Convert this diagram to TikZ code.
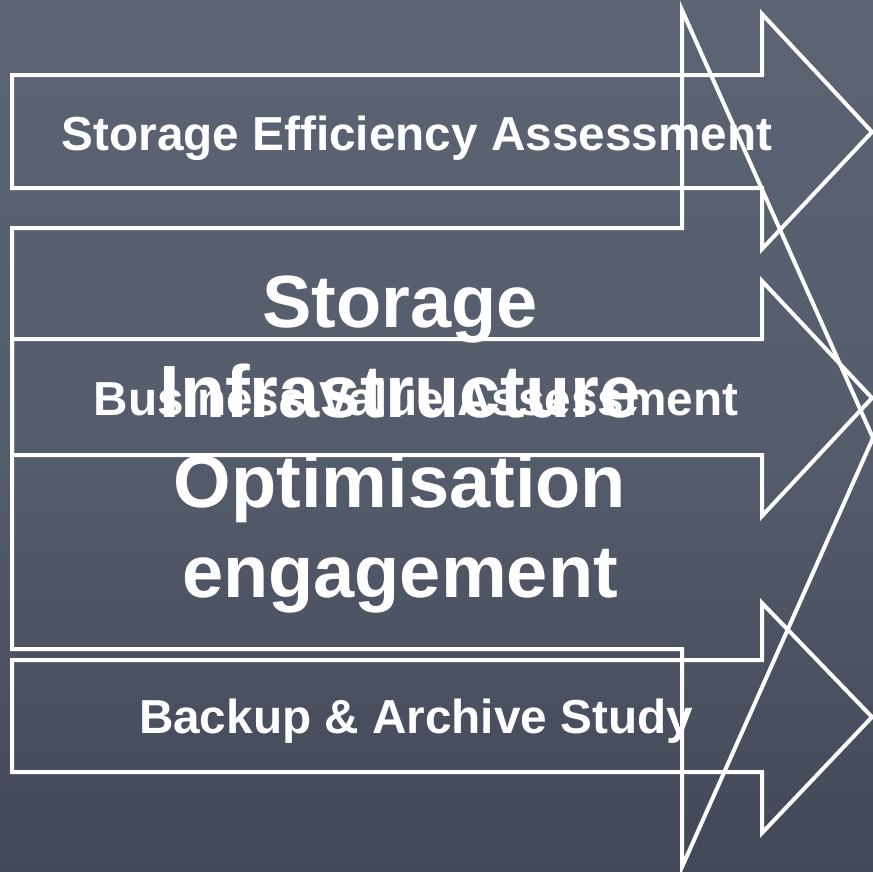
\documentclass[tikz,border=0pt]{standalone}
\usepackage{fontspec}
\setmainfont{Liberation Sans}
\begin{document}
\begin{tikzpicture}[x=1pt,y=-1pt,
  outline/.style={draw=white,line width=4pt,line join=miter},
  smalltext/.style={text=white,font=\fontsize{47.7}{57}\selectfont\bfseries,anchor=base,inner sep=0pt},
  bigtext/.style={text=white,font=\fontsize{74}{88}\selectfont\bfseries,anchor=base,inner sep=0pt}]
\definecolor{bgtop}{HTML}{5C6474}
\definecolor{bgmid}{HTML}{555C6B}
\definecolor{bgbot}{HTML}{434859}
\useasboundingbox (0,0) rectangle (873,871);
\shade[top color=bgtop,bottom color=bgbot,middle color=bgmid] (0,0) rectangle (873,871);
% big arrow
\draw[outline] (12,228) -- (682,228) -- (682,10) -- (873,438) -- (682,867) -- (682,649) -- (12,649) -- cycle;
% arrow 1
\draw[outline] (12,75) -- (762,75) -- (762,14) -- (872,132) -- (762,249) -- (762,188) -- (12,188) -- cycle;
% arrow 2
\draw[outline] (12,339) -- (762,339) -- (762,281) -- (872,398) -- (762,516) -- (762,455) -- (12,455) -- cycle;
% arrow 3
\draw[outline] (12,660) -- (762,660) -- (762,603) -- (872,717) -- (762,833) -- (762,772) -- (12,772) -- cycle;
\node[smalltext] (t1) at (417,150) {Storage Efficiency Assessment};
\node[smalltext] (t2) at (416,415) {Business Value Assessment};
\node[smalltext] (t3) at (416,733) {Backup \& Archive Study};
\node[bigtext] (b1) at (400,327) {Storage};
\node[bigtext] (b2) at (400,417) {Infrastructure};
\node[bigtext] (b3) at (400,507) {Optimisation};
\node[bigtext] (b4) at (400,597) {engagement};
\end{tikzpicture}
\end{document}
